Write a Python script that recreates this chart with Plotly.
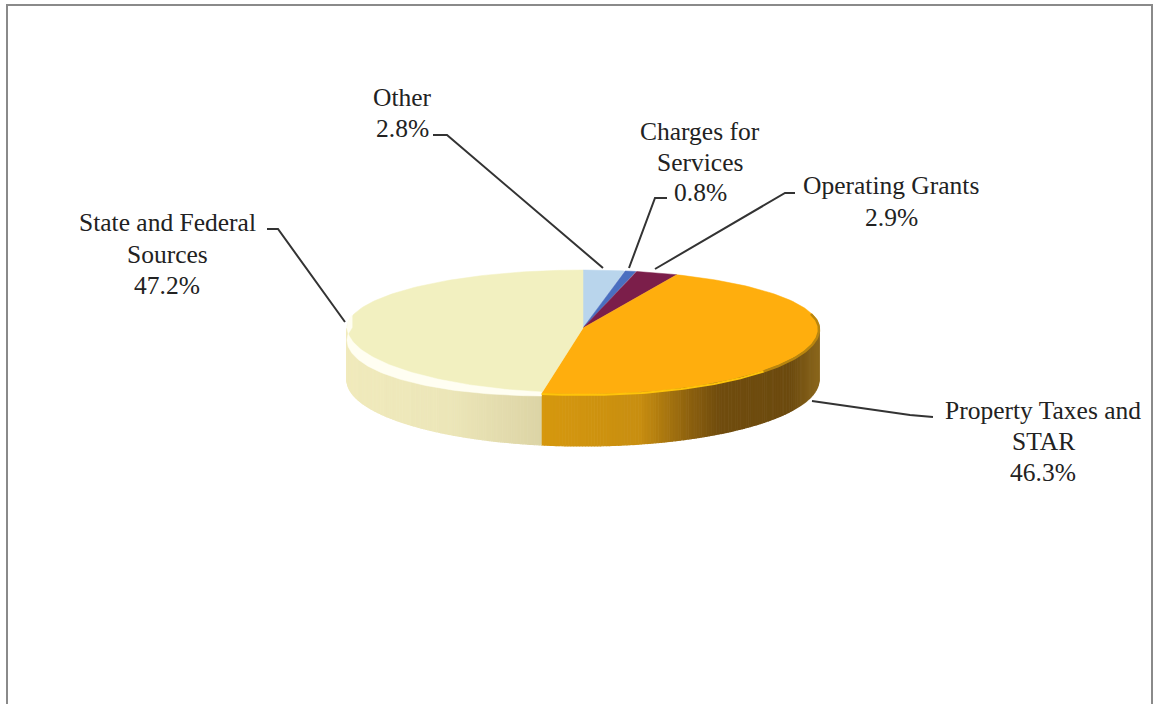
import plotly.graph_objects as go
import numpy as np

categories = ["Other", "Charges for<br>Services", "Operating Grants", "Property Taxes and<br>STAR", "State and Federal<br>Sources"]
shares = [2.8, 0.8, 2.9, 46.3, 47.2]
top_colors = ["#B9D5EC", "#4A6FC0", "#7B1E4A", "#FFAE0D", "#F2F0C0"]

CX, CY, RX, RY_BACK, RY_FRONT, DEPTH = 583, 328, 236, 58, 66, 52


def px(t):
    return CX + RX * np.sin(t)


def py(t):
    c = np.cos(t)
    return CY - np.where(c > 0, RY_BACK, RY_FRONT) * c


def mix(stops, f):
    xs = [s[0] for s in stops]
    rgb = [np.interp(f, xs, [s[1][i] for s in stops]) for i in range(3)]
    return "rgb(%d,%d,%d)" % tuple(int(round(v)) for v in rgb)


# side shading as a function of screen x
orange_side = [(541, (214, 152, 14)), (640, (200, 142, 16)), (690, (140, 96, 14)),
               (720, (112, 76, 14)), (790, (108, 74, 14)), (820, (140, 104, 30))]
pale_side = [(345, (240, 234, 188)), (450, (236, 230, 184)), (541, (220, 212, 165))]

fig = go.Figure()

# frame of the scanned page
fig.add_trace(go.Scatter(x=[7, 7, 1152, 1152], y=[704, 5, 5, 704], mode="lines",
                         line=dict(color="#8A8A8A", width=2), hoverinfo="skip", showlegend=False))

edges = np.radians(np.cumsum([0] + shares) * 3.6)

# side wall
for i in (3, 4):
    a = max(edges[i], np.pi / 2)
    b = min(edges[i + 1], 3 * np.pi / 2)
    steps = np.linspace(a, b, 140)
    stops = orange_side if i == 3 else pale_side
    for t0, t1 in zip(steps[:-1], steps[1:]):
        ts = np.linspace(t0, t1, 3)
        xs = np.concatenate([px(ts), px(ts[::-1])])
        ys = np.concatenate([py(ts), py(ts[::-1]) + DEPTH])
        col = mix(stops, float(px((t0 + t1) / 2)))
        fig.add_trace(go.Scatter(x=xs, y=ys, mode="lines", fill="toself", fillcolor=col,
                                 line=dict(color=col, width=1.2), hoverinfo="skip", showlegend=False))

# top surface
for i in range(len(shares)):
    ts = np.linspace(edges[i], edges[i + 1], 120)
    xs = np.concatenate([[CX], px(ts), [CX]])
    ys = np.concatenate([[CY], py(ts), [CY]])
    fig.add_trace(go.Scatter(x=xs, y=ys, mode="lines", fill="toself", fillcolor=top_colors[i],
                             line=dict(color=top_colors[i], width=0.5), name=categories[i].replace("<br>", " "),
                             hoverinfo="name", showlegend=False))

# lit rim on the pale slice: a crescent that narrows toward the front
ts = np.linspace(edges[4], np.radians(282), 80)
band = np.interp(px(ts), [345, 541], [12, 3])
fig.add_trace(go.Scatter(x=np.concatenate([px(ts), px(ts[::-1])]),
                         y=np.concatenate([py(ts) - 1, (py(ts) + band)[::-1]]),
                         mode="lines", fill="toself", fillcolor="#FFFEF2",
                         line=dict(color="#FFFEF2", width=0.5), hoverinfo="skip", showlegend=False))
# rims on the orange slice
ts = np.linspace(np.radians(130), edges[4], 60)
fig.add_trace(go.Scatter(x=px(ts), y=py(ts) + 1, mode="lines", line=dict(color="#FFC40A", width=2),
                         hoverinfo="skip", showlegend=False))
ts = np.linspace(np.radians(75), np.radians(130), 60)
fig.add_trace(go.Scatter(x=px(ts), y=py(ts) + 1, mode="lines", line=dict(color="#B9860F", width=2.5),
                         hoverinfo="skip", showlegend=False))

# leader lines
leaders = [
    ([433, 447, 603], [135, 135, 268]),
    ([667, 655, 629], [198, 198, 268]),
    ([795, 785, 655], [193, 193, 269]),
    ([812, 910, 933], [401, 415, 417]),
    ([267, 278, 345], [229, 229, 322]),
]
for xs, ys in leaders:
    fig.add_trace(go.Scatter(x=xs, y=ys, mode="lines", line=dict(color="#333333", width=2),
                             hoverinfo="skip", showlegend=False))

# labels, one annotation per text line
label_x = [402, 700, 891, 1043, 167]
label_y = [[97, 128], [131, 162, 192], [185, 217], [410, 441, 472], [222, 254, 285]]
for name, v, lx, ly in zip(categories, shares, label_x, label_y):
    for line, y in zip(name.split("<br>") + [f"{v:.1f}%"], ly):
        fig.add_annotation(x=lx, y=y, text=line, showarrow=False, xanchor="center", yanchor="middle",
                           font=dict(family="Liberation Serif", size=25.5, color="#222222"))

fig.update_layout(
    width=1153, height=704, margin=dict(l=0, r=0, t=0, b=0),
    paper_bgcolor="white", plot_bgcolor="white", showlegend=False,
    xaxis=dict(range=[0, 1153], visible=False, fixedrange=True),
    yaxis=dict(range=[704, 0], visible=False, fixedrange=True),
)

fig.write_html("out.html", config=dict(displayModeBar=False),
               post_script="document.body.style.margin='0';document.body.style.overflow='hidden';")
